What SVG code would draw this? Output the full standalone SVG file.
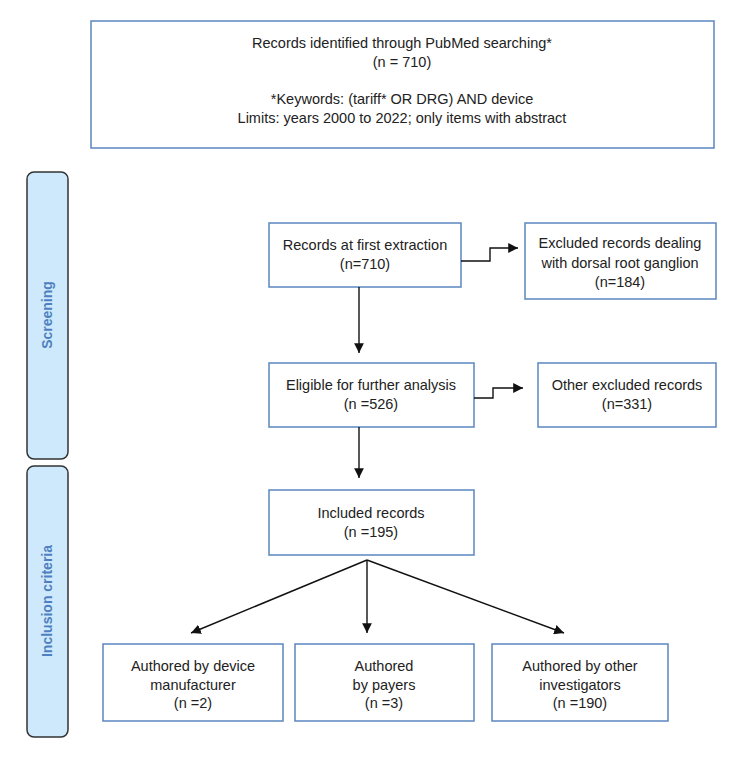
<svg xmlns="http://www.w3.org/2000/svg" width="750" height="770" viewBox="0 0 750 770">
<style>
.box{fill:#ffffff;stroke:#5a86bf;stroke-width:1.5}
.side{fill:#cde9fb;stroke:#333333;stroke-width:1.5}
.t{font-family:"Liberation Sans",Arial,sans-serif;font-size:14.5px;fill:#222222;text-anchor:middle}
.st{font-family:"Liberation Sans",Arial,sans-serif;font-size:14px;font-weight:bold;fill:#4f7fc0;text-anchor:middle}
.c{fill:none;stroke:#111111;stroke-width:1.4}
</style>
<defs>
<marker id="ah" viewBox="0 0 10 10" refX="10" refY="5" markerWidth="7" markerHeight="7" orient="auto" markerUnits="strokeWidth">
<path d="M0,0 L10,5 L0,10 z" fill="#111111"/>
</marker>
</defs>
<rect width="750" height="770" fill="#ffffff"/>
<g id="side-screening">
<rect class="side" x="27" y="172" width="41" height="287" rx="7"/>
<text class="st" transform="translate(52,315) rotate(-90)">Screening</text>
</g>
<g id="side-inclusion">
<rect class="side" x="27" y="466" width="41" height="271" rx="7"/>
<text class="st" transform="translate(52,601) rotate(-90)">Inclusion criteria</text>
</g>
<g id="node-pubmed">
<rect class="box" x="91" y="21" width="623" height="127"/>
<text class="t" x="402" y="48">Records identified through PubMed searching*</text>
<text class="t" x="402" y="67">(n = 710)</text>
<text class="t" x="402" y="104">*Keywords: (tariff* OR DRG) AND device</text>
<text class="t" x="402" y="123">Limits: years 2000 to 2022; only items with abstract</text>
</g>
<g id="node-first">
<rect class="box" x="269" y="223" width="192" height="64"/>
<text class="t" x="365" y="250">Records at first extraction</text>
<text class="t" x="365" y="269">(n=710)</text>
</g>
<g id="node-excluded-drg">
<rect class="box" x="525" y="223" width="191" height="76"/>
<text class="t" x="620" y="248">Excluded records dealing</text>
<text class="t" x="620" y="268">with dorsal root ganglion</text>
<text class="t" x="620" y="287">(n=184)</text>
</g>
<g id="node-eligible">
<rect class="box" x="269" y="363" width="205" height="64"/>
<text class="t" x="371" y="390">Eligible for further analysis</text>
<text class="t" x="371" y="409">(n =526)</text>
</g>
<g id="node-other-excluded">
<rect class="box" x="538" y="363" width="178" height="64"/>
<text class="t" x="627" y="390">Other excluded records</text>
<text class="t" x="627" y="409">(n=331)</text>
</g>
<g id="node-included">
<rect class="box" x="269" y="490" width="205" height="65"/>
<text class="t" x="371" y="518">Included records</text>
<text class="t" x="371" y="537">(n =195)</text>
</g>
<g id="node-manufacturer">
<rect class="box" x="103" y="644" width="180" height="77"/>
<text class="t" x="193" y="671">Authored by device</text>
<text class="t" x="193" y="690">manufacturer</text>
<text class="t" x="193" y="708">(n =2)</text>
</g>
<g id="node-payers">
<rect class="box" x="295" y="644" width="179" height="77"/>
<text class="t" x="384" y="671">Authored</text>
<text class="t" x="384" y="690">by payers</text>
<text class="t" x="384" y="708">(n =3)</text>
</g>
<g id="node-investigators">
<rect class="box" x="492" y="644" width="176" height="77"/>
<text class="t" x="580" y="671">Authored by other</text>
<text class="t" x="580" y="690">investigators</text>
<text class="t" x="580" y="708">(n =190)</text>
</g>
<g id="connectors">
<polyline class="c" points="461,261 490,261 490,248 518,248" marker-end="url(#ah)"/>
<line class="c" x1="359" y1="287" x2="359" y2="353" marker-end="url(#ah)"/>
<polyline class="c" points="474,398 493,398 493,388 523,388" marker-end="url(#ah)"/>
<line class="c" x1="359" y1="427" x2="359" y2="478" marker-end="url(#ah)"/>
<line class="c" x1="367" y1="560" x2="191" y2="633" marker-end="url(#ah)"/>
<line class="c" x1="367" y1="560" x2="367" y2="633" marker-end="url(#ah)"/>
<line class="c" x1="367" y1="560" x2="564" y2="633" marker-end="url(#ah)"/>
</g>
</svg>
